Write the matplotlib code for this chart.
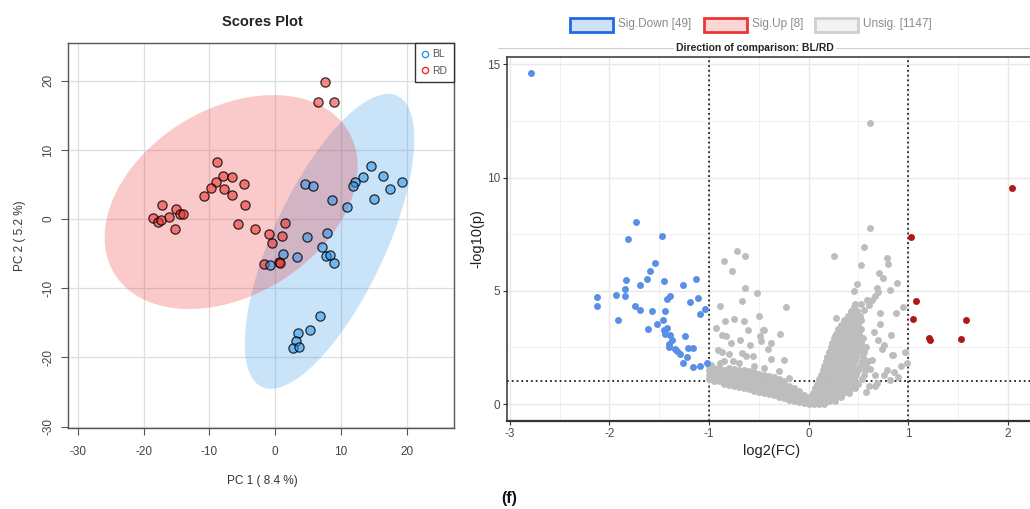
import matplotlib
matplotlib.use("Agg")
import matplotlib.pyplot as plt
import numpy as np
from matplotlib.lines import Line2D
from matplotlib.patches import Rectangle

plt.rcParams["font.family"] = ["Liberation Sans", "DejaVu Sans"]
plt.rcParams["axes.unicode_minus"] = False

# ---- PCA scores (left panel) ----
bl_pc1 = [14.6, 16.4, 19.3, 17.4, 13.3, 12.2, 11.8, 15.0, 10.9, 8.6, 4.5, 5.8, 7.9, 4.8,
          7.2, 7.7, 8.3, 9.0, 1.2, 3.3, -0.8, 6.8, 5.3, 3.5, 3.1, 2.7, 3.6]
bl_pc2 = [7.7, 6.3, 5.4, 4.4, 6.1, 5.4, 4.8, 2.85, 1.7, 2.7, 5.1, 4.8, -2.0, -2.6,
          -4.0, -5.4, -5.2, -6.4, -5.1, -5.5, -6.6, -14.0, -16.0, -16.5, -17.6, -18.6, -18.5]
rd_pc1 = [7.65, 6.5, 8.9, -8.9, -7.9, -6.6, -9.0, -9.8, -7.75, -10.8, -6.6, -4.8, -4.6, -5.6,
          -3.1, -1.0, -0.5, 1.1, 1.5, -17.2, -15.1, -14.5, -14.0, -16.1, -18.6, -17.8, -17.4,
          -15.2, -1.7, 0.6, 0.8]
rd_pc2 = [19.8, 16.9, 16.9, 8.2, 6.3, 6.1, 5.4, 4.5, 4.4, 3.4, 3.5, 5.1, 2.0, -0.7,
          -1.5, -2.2, -3.4, -2.4, -0.5, 2.1, 1.5, 0.7, 0.8, 0.3, 0.1, -0.4, -0.1,
          -1.4, -6.5, -6.2, -6.3]
pca_ticks = [-30, -20, -10, 0, 10, 20]

# ---- volcano (right panel) ----
down_fc = [-2.79, -1.73, -1.81, -1.47, -1.54, -1.59, -1.62, -1.83, -1.45, -1.13, -1.26, -1.69,
           -1.84, -1.93, -1.84, -2.12, -2.12, -1.42, -1.39, -1.11, -1.19, -1.74, -1.69, -1.57,
           -1.44, -1.04, -1.09, -1.91, -1.46, -1.52, -1.61, -1.45, -1.44, -1.39, -1.37, -1.24,
           -1.40, -1.40, -1.21, -1.16, -1.32, -1.29, -1.22, -1.26, -1.16, -1.09, -1.02, -1.34, -1.42]
down_p = [14.63, 8.03, 7.30, 7.42, 6.22, 5.88, 5.53, 5.47, 5.45, 5.51, 5.25, 5.25,
          5.07, 4.82, 4.79, 4.71, 4.31, 4.65, 4.75, 4.68, 4.52, 4.31, 4.16, 4.10,
          4.10, 4.19, 3.99, 3.71, 3.72, 3.55, 3.33, 3.28, 3.11, 3.07, 2.84, 2.99,
          2.65, 2.52, 2.48, 2.48, 2.33, 2.21, 2.08, 1.81, 1.65, 1.70, 1.81, 2.45, 3.35]
up_fc = [2.04, 1.03, 1.08, 1.05, 1.58, 1.21, 1.22, 1.53]
up_p = [9.54, 7.37, 4.56, 3.77, 3.71, 2.92, 2.81, 2.89]

unsig_points = [
    # scattered, right side
    (0.62, 12.41), (0.62, 7.78), (0.56, 6.92), (0.25, 6.53), (0.53, 6.15), (0.79, 6.46),
    (0.80, 6.20), (0.71, 5.78), (0.75, 5.58), (0.89, 5.34), (0.49, 5.28), (0.46, 5.00),
    (0.69, 5.14), (0.70, 4.97), (0.82, 5.04), (0.67, 4.75), (0.64, 4.60), (0.59, 4.60),
    (0.61, 4.38), (0.56, 4.16), (0.46, 4.28), (0.42, 3.94), (0.52, 3.87), (0.95, 4.28),
    (0.88, 4.04), (0.27, 3.78), (0.36, 3.70), (0.72, 3.52), (0.83, 3.06), (0.76, 2.62),
    (0.84, 2.18), (0.97, 2.30), (0.99, 1.80), (0.79, 1.52), (0.86, 1.44), (0.76, 1.30),
    (0.67, 1.30), (0.67, 0.78), (0.61, 0.78), (0.82, 1.08), (0.72, 4.02), (0.93, 1.70),
    (0.26, 3.02), (0.74, 2.43), (0.85, 2.18), (0.69, 0.95), (0.64, 1.95), (0.70, 2.85),
    (0.66, 3.20), (0.90, 1.20), (0.62, 1.55), (0.58, 0.55),
    # scattered, left side
    (-0.72, 6.76), (-0.64, 6.54), (-0.85, 6.33), (-0.77, 5.89), (-0.64, 5.13), (-0.52, 4.90),
    (-0.67, 4.53), (-0.89, 4.31), (-0.23, 4.27), (-0.50, 3.90), (-0.84, 3.68), (-0.75, 3.75),
    (-0.65, 3.65), (-0.93, 3.34), (-0.87, 3.06), (-0.83, 2.99), (-0.61, 3.25), (-0.46, 3.25),
    (-0.29, 3.11), (-0.49, 2.99), (-0.78, 2.72), (-0.69, 2.81), (-0.59, 2.62), (-0.48, 2.77),
    (-0.38, 2.72), (-0.41, 2.43), (-0.91, 2.37), (-0.87, 2.28), (-0.80, 2.22), (-0.67, 2.26),
    (-0.63, 2.14), (-0.56, 2.11), (-0.38, 1.99), (-0.25, 1.93), (-0.76, 1.89), (-0.89, 1.81),
    (-0.98, 1.74), (-0.45, 3.28), (-0.70, 1.80), (-0.55, 1.70), (-0.85, 1.90), (-0.30, 1.45),
    (-0.45, 1.60), (-0.20, 1.15),
    # dense left arm
    (-1.00, 1.10), (-1.00, 1.30), (-1.00, 1.50), (-1.00, 1.70),
    (-0.95, 1.00), (-0.95, 1.20), (-0.95, 1.40), (-0.95, 1.60),
    (-0.90, 1.00), (-0.90, 1.20), (-0.90, 1.40), (-0.90, 1.60),
    (-0.85, 0.90), (-0.85, 1.10), (-0.85, 1.30), (-0.85, 1.50),
    (-0.80, 0.85), (-0.80, 1.05), (-0.80, 1.25), (-0.80, 1.45), (-0.80, 1.60),
    (-0.75, 0.80), (-0.75, 1.00), (-0.75, 1.20), (-0.75, 1.40), (-0.75, 1.55),
    (-0.70, 0.75), (-0.70, 0.95), (-0.70, 1.15), (-0.70, 1.35), (-0.70, 1.50),
    (-0.65, 0.70), (-0.65, 0.90), (-0.65, 1.10), (-0.65, 1.30), (-0.65, 1.50),
    (-0.60, 0.65), (-0.60, 0.85), (-0.60, 1.05), (-0.60, 1.25), (-0.60, 1.45),
    (-0.55, 0.60), (-0.55, 0.80), (-0.55, 1.00), (-0.55, 1.20), (-0.55, 1.40),
    (-0.50, 0.55), (-0.50, 0.75), (-0.50, 0.95), (-0.50, 1.15), (-0.50, 1.35),
    (-0.45, 0.50), (-0.45, 0.70), (-0.45, 0.90), (-0.45, 1.10), (-0.45, 1.30),
    (-0.40, 0.45), (-0.40, 0.65), (-0.40, 0.85), (-0.40, 1.05), (-0.40, 1.25),
    (-0.35, 0.40), (-0.35, 0.60), (-0.35, 0.80), (-0.35, 1.00), (-0.35, 1.20),
    (-0.30, 0.30), (-0.30, 0.50), (-0.30, 0.70), (-0.30, 0.90), (-0.30, 1.10),
    (-0.25, 0.25), (-0.25, 0.45), (-0.25, 0.65), (-0.25, 0.85), (-0.25, 1.00),
    (-0.20, 0.20), (-0.20, 0.40), (-0.20, 0.60), (-0.20, 0.80),
    (-0.15, 0.12), (-0.15, 0.30), (-0.15, 0.50), (-0.15, 0.70),
    (-0.10, 0.08), (-0.10, 0.25), (-0.10, 0.45), (-0.10, 0.60),
    (-0.05, 0.03), (-0.05, 0.20), (-0.05, 0.40),
    (0.00, 0.00), (0.00, 0.15), (0.00, 0.30),
    # dense right arm
    (0.05, 0.00), (0.10, 0.00), (0.15, 0.00),
    (0.02, 0.15), (0.08, 0.15), (0.14, 0.15), (0.20, 0.15), (0.26, 0.15),
    (0.03, 0.30), (0.09, 0.30), (0.15, 0.30), (0.21, 0.30), (0.27, 0.30), (0.32, 0.30),
    (0.04, 0.50), (0.10, 0.50), (0.16, 0.50), (0.22, 0.50), (0.28, 0.50), (0.34, 0.50), (0.40, 0.50),
    (0.06, 0.70), (0.12, 0.70), (0.18, 0.70), (0.24, 0.70), (0.30, 0.70), (0.36, 0.70), (0.42, 0.70), (0.47, 0.70),
    (0.08, 0.90), (0.14, 0.90), (0.20, 0.90), (0.26, 0.90), (0.32, 0.90), (0.38, 0.90), (0.44, 0.90), (0.50, 0.90),
    (0.10, 1.10), (0.16, 1.10), (0.22, 1.10), (0.28, 1.10), (0.34, 1.10), (0.40, 1.10), (0.46, 1.10), (0.54, 1.10),
    (0.12, 1.30), (0.18, 1.30), (0.24, 1.30), (0.30, 1.30), (0.36, 1.30), (0.42, 1.30), (0.48, 1.30), (0.56, 1.30),
    (0.14, 1.50), (0.20, 1.50), (0.26, 1.50), (0.32, 1.50), (0.38, 1.50), (0.44, 1.50), (0.50, 1.50), (0.57, 1.50),
    (0.15, 1.70), (0.21, 1.70), (0.27, 1.70), (0.33, 1.70), (0.39, 1.70), (0.45, 1.70), (0.52, 1.70), (0.58, 1.70),
    (0.17, 1.90), (0.23, 1.90), (0.29, 1.90), (0.35, 1.90), (0.41, 1.90), (0.47, 1.90), (0.54, 1.90), (0.60, 1.90),
    (0.18, 2.10), (0.24, 2.10), (0.30, 2.10), (0.36, 2.10), (0.42, 2.10), (0.48, 2.10), (0.55, 2.10),
    (0.20, 2.30), (0.26, 2.30), (0.32, 2.30), (0.38, 2.30), (0.44, 2.30), (0.50, 2.30), (0.56, 2.30),
    (0.22, 2.50), (0.28, 2.50), (0.34, 2.50), (0.40, 2.50), (0.46, 2.50), (0.52, 2.50), (0.58, 2.50),
    (0.23, 2.70), (0.29, 2.70), (0.35, 2.70), (0.41, 2.70), (0.47, 2.70), (0.53, 2.70),
    (0.25, 2.90), (0.31, 2.90), (0.37, 2.90), (0.43, 2.90), (0.49, 2.90), (0.55, 2.90),
    (0.27, 3.10), (0.33, 3.10), (0.39, 3.10), (0.45, 3.10), (0.51, 3.10),
    (0.29, 3.30), (0.35, 3.30), (0.41, 3.30), (0.47, 3.30), (0.53, 3.30),
    (0.32, 3.50), (0.38, 3.50), (0.44, 3.50), (0.50, 3.50),
    (0.35, 3.70), (0.41, 3.70), (0.47, 3.70), (0.53, 3.70),
    (0.39, 3.90), (0.45, 3.90), (0.51, 3.90),
    (0.43, 4.10), (0.49, 4.10),
    (0.47, 4.40), (0.53, 4.40),
]
unsig_fc = [p[0] for p in unsig_points]
unsig_p = [p[1] for p in unsig_points]
fc_ticks = [-3, -2, -1, 0, 1, 2]
p_ticks = [0, 5, 10, 15]
legend_labels = ["Sig.Down [49]", "Sig.Up [8]", "Unsig. [1147]"]

W, H = 1030, 509
RED = "#ee2b2b"
BLUE = "#2a95ea"


def fx(px):
    return px / W


def fy(py):
    return 1 - py / H


def conf_ellipse(x, y, chi2=5.991, n=240):
    """95% confidence ellipse from the sample covariance."""
    x, y = np.asarray(x), np.asarray(y)
    vals, vecs = np.linalg.eigh(np.cov(x, y))
    t = np.linspace(0, 2 * np.pi, n)
    circle = np.vstack([np.cos(t), np.sin(t)])
    pts = vecs @ (np.sqrt(vals * chi2)[:, None] * circle)
    return pts[0] + x.mean(), pts[1] + y.mean()


fig = plt.figure(figsize=(W / 100, H / 100), dpi=100)

# ---------------- scores plot ----------------
ax1 = fig.add_axes([fx(68), fy(428), (454 - 68) / W, (428 - 42.7) / H])
ax1.set_xlim(-31.5, 27.2)
ax1.set_ylim(-30.2, 25.5)
ax1.set_xticks(pca_ticks)
ax1.set_yticks(pca_ticks)
ax1.grid(color="#dedede", linewidth=0.9)
ax1.set_axisbelow(True)
for px_, py_, col in ((bl_pc1, bl_pc2, BLUE), (rd_pc1, rd_pc2, RED)):
    ex, ey = conf_ellipse(px_, py_)
    ax1.fill(ex, ey, color=col, alpha=0.25, linewidth=0, zorder=1)
for px_, py_, col in ((rd_pc1, rd_pc2, RED), (bl_pc1, bl_pc2, BLUE)):
    ax1.scatter(px_, py_, s=44, facecolor=matplotlib.colors.to_rgba(col, 0.55),
                edgecolor=(0, 0, 0, 0.8), linewidth=0.9, zorder=3)
for sp in ax1.spines.values():
    sp.set_color("#555555")
    sp.set_linewidth(1.0)
ax1.tick_params(length=5, color="#555555", labelcolor="#444444", labelsize=8.5, pad=8)
ax1.tick_params(axis="y", pad=5)
for lab in ax1.get_yticklabels():
    lab.set_rotation(90)
    lab.set_va("center")
handles = [Line2D([], [], marker="o", linestyle="none", markerfacecolor="none",
                  markeredgecolor=c, markersize=4.5, markeredgewidth=1.0) for c in (BLUE, RED)]
leg = ax1.legend(handles, ["BL", "RD"], loc="upper right", borderaxespad=0, fancybox=False,
                 framealpha=1, edgecolor="#333333", fontsize=7.5, handlelength=0.7,
                 handletextpad=0.3, labelspacing=0.6, borderpad=0.65)
for t in leg.get_texts():
    t.set_color("#555555")
leg.get_frame().set_linewidth(1.0)

fig.text(fx(262), fy(22), "Scores Plot", ha="center", va="center", fontsize=10.5,
         fontweight="bold", color="#222222")
fig.text(fx(262), fy(481), "PC 1 ( 8.4 %)", ha="center", va="center", fontsize=8.5, color="#333333")
fig.text(fx(20), fy(236), "PC 2 ( 5.2 %)", ha="center", va="center", fontsize=8.5,
         color="#333333", rotation=90)

# ---------------- volcano plot ----------------
ax2 = fig.add_axes([fx(506.8), fy(420.7), (1036.8 - 506.8) / W, (420.7 - 56.7) / H])
ax2.set_xlim(-3.03, 2.29)
ax2.set_ylim(-0.73, 15.33)
ax2.set_xticks(fc_ticks)
ax2.set_yticks(p_ticks)
ax2.set_xticks(np.arange(-2.5, 2.3, 1.0), minor=True)
ax2.set_yticks([2.5, 7.5, 12.5], minor=True)
ax2.grid(which="major", color="#e8e8e8", linewidth=1.0)
ax2.grid(which="minor", color="#f0f0f0", linewidth=0.7)
ax2.set_axisbelow(True)
ax2.tick_params(which="minor", length=0)
ax2.tick_params(which="major", length=3, color="#333333", labelcolor="#4d4d4d",
                labelsize=8.5, pad=2)
for sp in ax2.spines.values():
    sp.set_color("#333333")
    sp.set_linewidth(1.1)
ax2.spines["bottom"].set_linewidth(1.6)
ax2.axvline(-1, color="#222222", linestyle=":", linewidth=1.3, zorder=1.5)
ax2.axvline(1, color="#222222", linestyle=":", linewidth=1.3, zorder=1.5)
ax2.axhline(1, color="#222222", linestyle=":", linewidth=1.3, zorder=1.5)
ax2.scatter(unsig_fc, unsig_p, s=25, color="#bdbdbd", linewidth=0, zorder=2)
ax2.scatter(down_fc, down_p, s=25, color="#5a8fe6", linewidth=0, zorder=3)
ax2.scatter(up_fc, up_p, s=25, color="#b01818", linewidth=0, zorder=3)

fig.text(fx(771.8), fy(451), "log2(FC)", ha="center", va="center", fontsize=10.5, color="#222222")
fig.text(fx(477), fy(238.7), "-log10(p)", ha="center", va="center", fontsize=10.5,
         color="#222222", rotation=90)

# title strip
fig.add_artist(Line2D([fx(498), 1.0], [fy(47.7), fy(47.7)], color="#cfcfcf", linewidth=0.8))
fig.text(fx(754.6), fy(47.7), "Direction of comparison: BL/RD", ha="center", va="center",
         fontsize=7.5, fontweight="bold", color="#222222",
         bbox=dict(facecolor="white", edgecolor="none", pad=1.5))

# legend boxes
box_x = [570.4, 704.0, 815.0]
text_x = [618.0, 752.0, 863.0]
box_edges = ["#1f6ae0", "#ee3535", "#cfcfcf"]
box_fills = ["#cfe0f8", "#fcd6d6", "#f2f2f2"]
for bx, tx, lab, ec, fc in zip(box_x, text_x, legend_labels, box_edges, box_fills):
    fig.add_artist(Rectangle((fx(bx), fy(31.5)), 42.5 / W, 14 / H, transform=fig.transFigure,
                             facecolor=fc, edgecolor=ec, linewidth=2.0))
    fig.text(fx(tx), fy(24.5), lab, ha="left", va="center", fontsize=8.5, color="#8a8a8a")

fig.text(fx(509.5), fy(498), "(f)", ha="center", va="center", fontsize=11.5,
         fontweight="bold", color="#111111")

fig.savefig("out.png", dpi=100)
